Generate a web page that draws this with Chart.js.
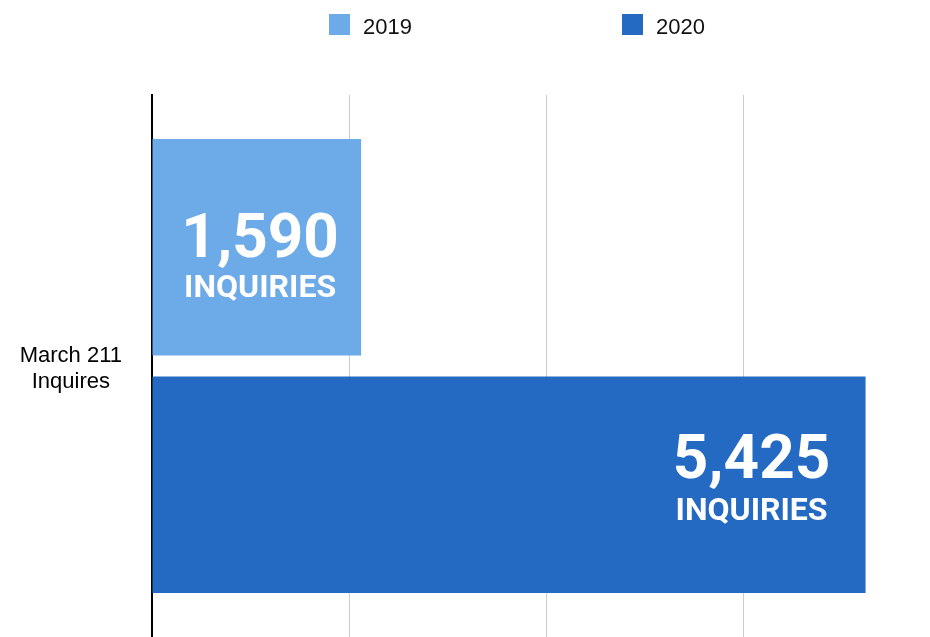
<!DOCTYPE html>
<html>
<head>
<meta charset="utf-8">
<title>March 211 Inquiries</title>
<script src="https://cdn.jsdelivr.net/npm/chart.js@4"></script>
<style>
  html, body { margin:0; padding:0; background:#fff; }
</style>
</head>
<body>
<canvas id="chart" width="930" height="637"></canvas>
<script>
/* data */
const categories = [['March 211', 'Inquires']];
const seriesNames = ['2019', '2020'];
const values2019 = [1590];
const values2020 = [5425];
const valueUnit = 'INQUIRIES';
const xTicks = [0, 1500, 3000, 4500];
const xMax = 5915;

const colors = ['#6daae8', '#2469c2'];

// legend drawn at the top, Google Charts style
const legendPlugin = {
  id: 'topLegend',
  afterDraw(chart, args, opts){
    const ctx = chart.ctx;
    ctx.save();
    chart.data.datasets.forEach((ds, i) => {
      const x = opts.xs[i];
      ctx.fillStyle = ds.backgroundColor;
      ctx.fillRect(x, 14, 21, 21);
      ctx.fillStyle = '#111';
      ctx.font = '22px "Liberation Sans", Arial, sans-serif';
      ctx.textAlign = 'left';
      ctx.textBaseline = 'alphabetic';
      ctx.fillText(ds.label, x + 34, 34);
    });
    ctx.restore();
  }
};

// big white numbers inside the bars
const barLabelPlugin = {
  id: 'barLabels',
  afterDatasetsDraw(chart, args, opts){
    const ctx = chart.ctx;
    ctx.save();
    ctx.fillStyle = '#fff';
    ctx.textAlign = 'center';
    ctx.textBaseline = 'alphabetic';
    chart.data.datasets.forEach((ds, i) => {
      const meta = chart.getDatasetMeta(i);
      meta.data.forEach((bar, j) => {
        const v = ds.data[j];
        const cx = bar.x - opts.dx[i];
        ctx.font = 'bold 62px Roboto, "Liberation Sans", sans-serif';
        ctx.fillText(v.toLocaleString('en-US'), cx, bar.y + opts.dyNum[i]);
        ctx.font = 'bold 32px Roboto, "Liberation Sans", sans-serif';
        ctx.fillText(valueUnit, cx, bar.y + opts.dyUnit[i]);
      });
    });
    ctx.restore();
  }
};

new Chart(document.getElementById('chart'), {
  type: 'bar',
  data: {
    labels: categories,
    datasets: [
      { label: seriesNames[0], data: values2019, backgroundColor: colors[0] },
      { label: seriesNames[1], data: values2020, backgroundColor: colors[1] }
    ]
  },
  options: {
    indexAxis: 'y',
    responsive: false,
    animation: false,
    categoryPercentage: 0.876,
    barPercentage: 0.912,
    layout: { padding: { top: 95, left: 0, right: 0, bottom: 0 } },
    scales: {
      x: {
        min: 0, max: xMax,
        ticks: { display: false },
        afterBuildTicks(scale){ scale.ticks = xTicks.map(v => ({ value: v })); },
        grid: {
          drawTicks: false,
          lineWidth: 1,
          color: c => (c.tick && c.tick.value > 0) ? '#cccccc' : 'rgba(0,0,0,0)'
        },
        border: { display: false }
      },
      y: {
        grid: { display: false },
        border: { display: true, color: '#000', width: 2 },
        ticks: {
          crossAlign: 'center',
          padding: 22,
          labelOffset: 3,
          color: '#000',
          font: { family: '"Liberation Sans", Arial, sans-serif', size: 22, lineHeight: 1.2 }
        },
        afterFit(scale){
          scale.width = 152;
          scale.paddingTop = 0;
          scale.paddingBottom = 0;
        }
      }
    },
    plugins: {
      legend: { display: false },
      tooltip: { enabled: false },
      topLegend: { xs: [329, 622] },
      barLabels: { dx: [101, 114], dyNum: [10, -7], dyUnit: [50, 35] }
    }
  },
  plugins: [legendPlugin, barLabelPlugin]
});
</script>
</body>
</html>
